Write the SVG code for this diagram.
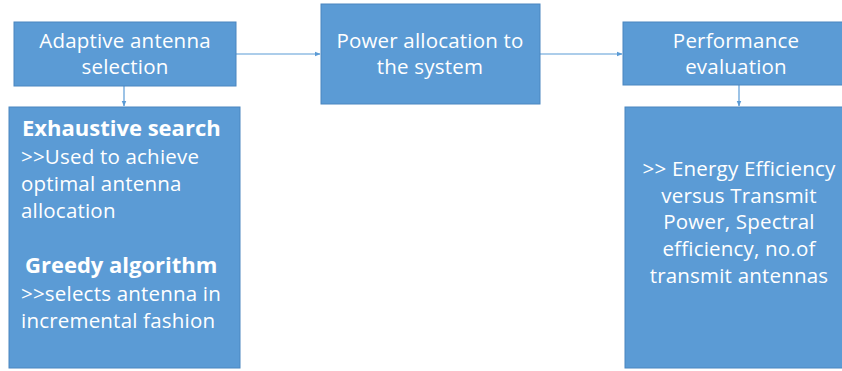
<svg xmlns="http://www.w3.org/2000/svg" width="842" height="371" viewBox="0 0 842 371">
<style>
.box{fill:#5b9bd5;stroke:#4a86c0;stroke-width:1}
.t{font-family:"Open Sans","Noto Sans",sans-serif;font-size:20.5px;fill:#ffffff;letter-spacing:0.2px}
.c{text-anchor:middle}
.b{font-weight:bold;font-size:22px;letter-spacing:0}
.conn{stroke:#5b9bd5;stroke-width:1.2;fill:none}
</style>
<defs>
<marker id="ah" viewBox="0 0 10 10" refX="9" refY="5" markerWidth="5" markerHeight="5" orient="auto">
<path d="M0,1 L10,5 L0,9 z" fill="#5b9bd5"/>
</marker>
</defs>
<rect width="842" height="371" fill="#ffffff"/>
<g id="connectors">
<line class="conn" x1="236" y1="54" x2="320" y2="54" marker-end="url(#ah)"/>
<line class="conn" x1="540" y1="54" x2="622" y2="54" marker-end="url(#ah)"/>
<line class="conn" x1="124" y1="86" x2="124" y2="106" marker-end="url(#ah)"/>
<line class="conn" x1="739" y1="85" x2="739" y2="106" marker-end="url(#ah)"/>
</g>
<g id="adaptive">
<rect class="box" x="14" y="22" width="222" height="64"/>
<text class="t c" x="125" y="48">Adaptive antenna</text>
<text class="t c" x="125" y="74">selection</text>
</g>
<g id="power">
<rect class="box" x="321" y="4" width="219" height="100"/>
<text class="t c" x="430" y="48">Power allocation to</text>
<text class="t c" x="430" y="74">the system</text>
</g>
<g id="performance">
<rect class="box" x="623" y="22" width="222" height="63"/>
<text class="t c" x="736" y="48">Performance</text>
<text class="t c" x="736" y="74">evaluation</text>
</g>
<g id="methods">
<rect class="box" x="9" y="107" width="231" height="261"/>
<text class="t b" x="22" y="136">Exhaustive search</text>
<text class="t" x="21" y="164">&gt;&gt;Used to achieve</text>
<text class="t" x="21" y="191">optimal antenna</text>
<text class="t" x="21" y="218">allocation</text>
<text class="t b" x="25" y="273">Greedy algorithm</text>
<text class="t" x="21" y="301">&gt;&gt;selects antenna in</text>
<text class="t" x="21" y="328">incremental fashion</text>
</g>
<g id="results">
<rect class="box" x="625" y="107" width="220" height="261"/>
<text class="t c" x="739" y="176">&gt;&gt; Energy Efficiency</text>
<text class="t c" x="739" y="203">versus Transmit</text>
<text class="t c" x="739" y="229">Power, Spectral</text>
<text class="t c" x="739" y="256">efficiency, no.of</text>
<text class="t c" x="739" y="283">transmit antennas</text>
</g>
</svg>
